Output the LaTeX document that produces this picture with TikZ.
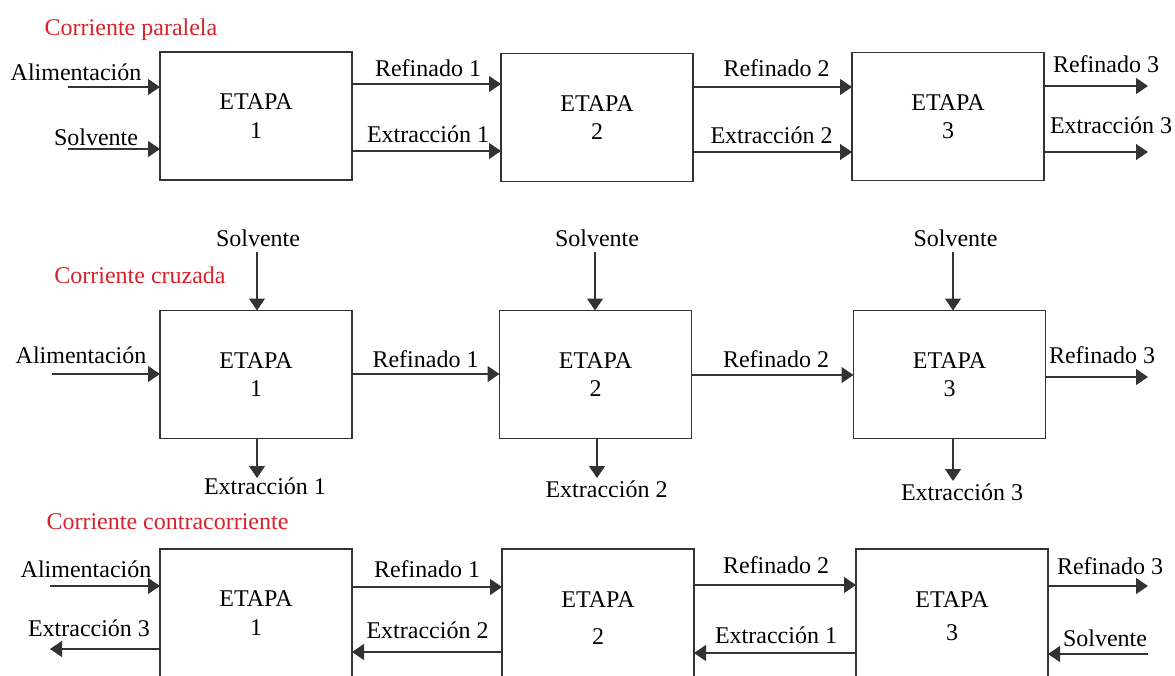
\documentclass[tikz,border=0pt]{standalone}
\usepackage{fontspec}
\setmainfont{Liberation Serif}
\usetikzlibrary{arrows.meta}
\definecolor{titlered}{RGB}{214,34,42}
\begin{document}
\begin{tikzpicture}[x=1pt,y=-1pt,
  stage/.style={draw=black!80, line width=1.2pt, minimum width=192pt,
    minimum height=128pt, inner sep=0pt, outer sep=0pt, align=center,
    font=\fontsize{24}{28.5}\selectfont},
  flow/.style={draw=black!80, line width=1.2pt,
    -{Triangle[length=12pt,width=16pt]}},
  lbl/.style={anchor=base, inner sep=0pt, font=\fontsize{24}{28}\selectfont},
  heading/.style={lbl, text=titlered}]
\useasboundingbox (0,0) rectangle (1175,675);
\clip (0,0) rectangle (1175,675);

% ---------------- Corriente paralela ----------------
\node[heading] (ta) at (131,35) {Corriente paralela};
\node[stage] (a1) at (256,116) {ETAPA\\1};
\node[stage] (a2) at (597,117.5) {ETAPA\\2};
\node[stage] (a3) at (948,116.5) {ETAPA\\3};

\coordinate (a-feed) at (68,87);
\coordinate (a-solv) at (68,149);
\coordinate (a-r1) at (0,84);
\coordinate (a-e1) at (0,151);
\coordinate (a-r2) at (0,87);
\coordinate (a-e2) at (0,152);
\coordinate (a-r3) at (1148,86);
\coordinate (a-e3) at (1148,152);

\draw[flow] (a-feed) -- (a-feed -| a1.west);
\draw[flow] (a-solv) -- (a-solv -| a1.west);
\draw[flow] (a1.east |- a-r1) -- (a2.west |- a-r1);
\draw[flow] (a1.east |- a-e1) -- (a2.west |- a-e1);
\draw[flow] (a2.east |- a-r2) -- (a3.west |- a-r2);
\draw[flow] (a2.east |- a-e2) -- (a3.west |- a-e2);
\draw[flow] (a-r3 -| a3.east) -- (a-r3);
\draw[flow] (a-e3 -| a3.east) -- (a-e3);

\node[lbl] (la-feed) at (76,80) {Alimentación};
\node[lbl] (la-solv) at (96,145) {Solvente};
\node[lbl] (la-r1) at (428,76) {Refinado 1};
\node[lbl] (la-e1) at (428,142) {Extracción 1};
\node[lbl] (la-r2) at (776.5,76) {Refinado 2};
\node[lbl] (la-e2) at (771.5,143) {Extracción 2};
\node[lbl] (la-r3) at (1106,72) {Refinado 3};
\node[lbl] (la-e3) at (1111,133) {Extracción 3};

% ---------------- Corriente cruzada ----------------
\node[heading] (tb) at (140,283) {Corriente cruzada};
\node[stage] (b1) at (256,374.5) {ETAPA\\1};
\node[stage] (b2) at (595.5,374.5) {ETAPA\\2};
\node[stage] (b3) at (949.5,374.5) {ETAPA\\3};

\coordinate (b-feed) at (52,374);
\coordinate (b-r1) at (0,374);
\coordinate (b-r2) at (0,375);
\coordinate (b-r3) at (1148,377);
\coordinate (b-s1) at (257,252);
\coordinate (b-s2) at (595,252);
\coordinate (b-s3) at (953,252);
\coordinate (b-e1) at (257,478);
\coordinate (b-e2) at (597,478);
\coordinate (b-e3) at (953,481);

\draw[flow] (b-feed) -- (b-feed -| b1.west);
\draw[flow] (b1.east |- b-r1) -- (b2.west |- b-r1);
\draw[flow] (b2.east |- b-r2) -- (b3.west |- b-r2);
\draw[flow] (b-r3 -| b3.east) -- (b-r3);
\draw[flow] (b-s1) -- (b-s1 |- b1.north);
\draw[flow] (b-s2) -- (b-s2 |- b2.north);
\draw[flow] (b-s3) -- (b-s3 |- b3.north);
\draw[flow] (b-e1 |- b1.south) -- (b-e1);
\draw[flow] (b-e2 |- b2.south) -- (b-e2);
\draw[flow] (b-e3 |- b3.south) -- (b-e3);

\node[lbl] (lb-feed) at (81,363) {Alimentación};
\node[lbl] (lb-r1) at (425.5,367) {Refinado 1};
\node[lbl] (lb-r2) at (776,367) {Refinado 2};
\node[lbl] (lb-r3) at (1102,363) {Refinado 3};
\node[lbl] (lb-s1) at (258,246) {Solvente};
\node[lbl] (lb-s2) at (597,246) {Solvente};
\node[lbl] (lb-s3) at (955.5,246) {Solvente};
\node[lbl] (lb-e1) at (265,494) {Extracción 1};
\node[lbl] (lb-e2) at (606.5,497) {Extracción 2};
\node[lbl] (lb-e3) at (962,500) {Extracción 3};

% ---------------- Corriente contracorriente ----------------
\node[heading] (tc) at (167.5,529) {Corriente contracorriente};
\node[stage] (c1) at (256,613) {ETAPA\\1};
\node[stage] (c2) at (598,613) {\rule{0pt}{26pt}ETAPA\\[8pt]2};
\node[stage] (c3) at (952,613) {\rule{0pt}{22pt}ETAPA\\[4pt]3};

\coordinate (c-feed) at (50,586);
\coordinate (c-e3) at (50,649);
\coordinate (c-r1) at (0,587);
\coordinate (c-e2) at (0,652);
\coordinate (c-r2) at (0,585);
\coordinate (c-e1) at (0,653);
\coordinate (c-r3) at (1148,586);
\coordinate (c-solv) at (1148,654);

\draw[flow] (c-feed) -- (c-feed -| c1.west);
\draw[flow] (c-e3 -| c1.west) -- (c-e3);
\draw[flow] (c1.east |- c-r1) -- (c2.west |- c-r1);
\draw[flow] (c2.west |- c-e2) -- (c1.east |- c-e2);
\draw[flow] (c2.east |- c-r2) -- (c3.west |- c-r2);
\draw[flow] (c3.west |- c-e1) -- (c2.east |- c-e1);
\draw[flow] (c-r3 -| c3.east) -- (c-r3);
\draw[flow] (c-solv) -- (c-solv -| c3.east);

\node[lbl] (lc-feed) at (86,577) {Alimentación};
\node[lbl] (lc-e3) at (89,636) {Extracción 3};
\node[lbl] (lc-r1) at (427,577) {Refinado 1};
\node[lbl] (lc-e2) at (427.5,638) {Extracción 2};
\node[lbl] (lc-r2) at (776,573) {Refinado 2};
\node[lbl] (lc-e1) at (776,643) {Extracción 1};
\node[lbl] (lc-r3) at (1110,574) {Refinado 3};
\node[lbl] (lc-solv) at (1105,646) {Solvente};
\end{tikzpicture}
\end{document}
